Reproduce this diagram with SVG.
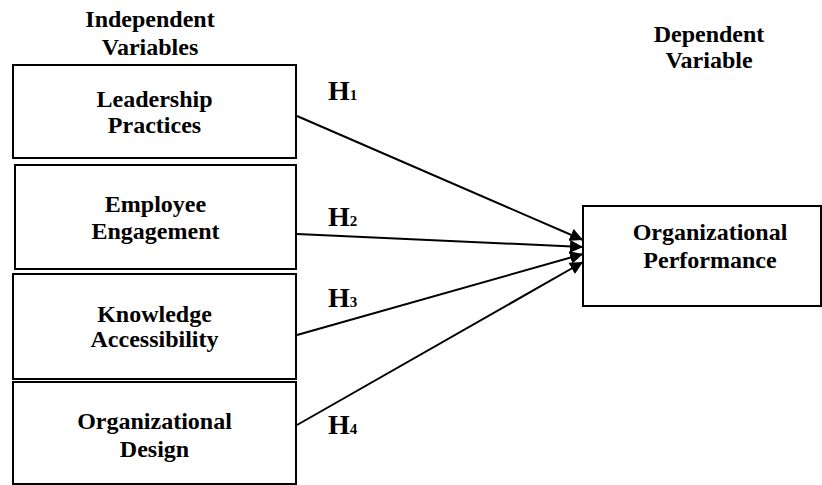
<svg xmlns="http://www.w3.org/2000/svg" width="822" height="485" viewBox="0 0 822 485">
<style>
.box{fill:#fff;stroke:#000;stroke-width:2}
.t{font-family:"Liberation Serif","Times New Roman",serif;font-weight:bold;font-size:24px;text-anchor:middle;fill:#000}
.h{font-family:"Liberation Serif","Times New Roman",serif;font-weight:bold;font-size:28px;fill:#000}
.s{font-size:15px}
.c{fill:none;stroke:#000;stroke-width:2}
</style>
<defs>
<marker id="ah" markerWidth="14" markerHeight="14" refX="13" refY="7" orient="auto" markerUnits="userSpaceOnUse">
<path d="M0,0.5 L13,7 L0,13.5 Z" fill="#000"/>
</marker>
</defs>
<rect width="822" height="485" fill="#fff"/>
<g id="header-independent">
<text class="t" x="150" y="27">Independent</text>
<text class="t" x="150" y="55">Variables</text>
</g>
<g id="header-dependent">
<text class="t" x="709" y="42">Dependent</text>
<text class="t" x="709" y="68">Variable</text>
</g>
<g id="leadership">
<rect class="box" x="13" y="65" width="283" height="93"/>
<text class="t" x="154.5" y="107">Leadership</text>
<text class="t" x="154.5" y="133">Practices</text>
</g>
<g id="engagement">
<rect class="box" x="15" y="165" width="281" height="104"/>
<text class="t" x="155.5" y="212">Employee</text>
<text class="t" x="155.5" y="239">Engagement</text>
</g>
<g id="knowledge">
<rect class="box" x="13" y="274" width="283" height="105"/>
<text class="t" x="154.5" y="322">Knowledge</text>
<text class="t" x="154.5" y="347">Accessibility</text>
</g>
<g id="design">
<rect class="box" x="13" y="382" width="283" height="102"/>
<text class="t" x="154.5" y="429">Organizational</text>
<text class="t" x="154.5" y="457">Design</text>
</g>
<g id="performance">
<rect class="box" x="583" y="206" width="238" height="100"/>
<text class="t" x="710" y="240">Organizational</text>
<text class="t" x="710" y="268">Performance</text>
</g>
<g id="connectors">
<line class="c" x1="297" y1="116" x2="583" y2="240" marker-end="url(#ah)"/>
<line class="c" x1="297" y1="234" x2="583" y2="247" marker-end="url(#ah)"/>
<line class="c" x1="297" y1="335" x2="583" y2="254" marker-end="url(#ah)"/>
<line class="c" x1="297" y1="425" x2="583" y2="262" marker-end="url(#ah)"/>
<text class="h" x="328" y="100">H<tspan class="s">1</tspan></text>
<text class="h" x="328" y="226">H<tspan class="s">2</tspan></text>
<text class="h" x="328" y="307">H<tspan class="s">3</tspan></text>
<text class="h" x="328" y="434">H<tspan class="s">4</tspan></text>
</g>
</svg>
